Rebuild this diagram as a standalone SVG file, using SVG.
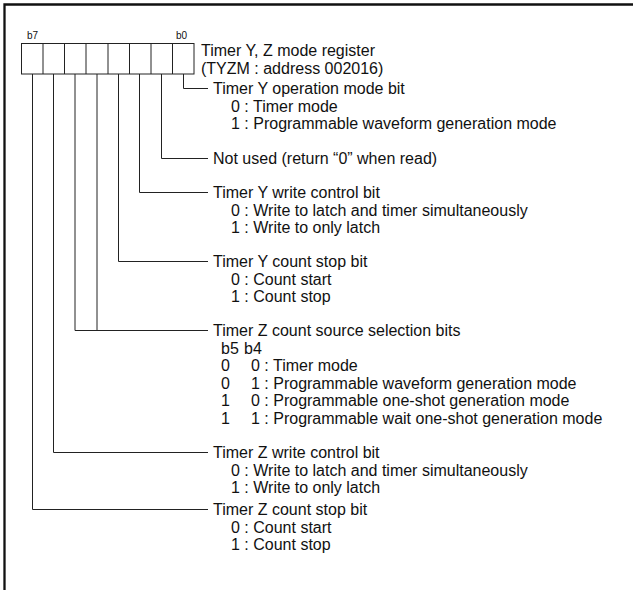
<svg xmlns="http://www.w3.org/2000/svg" width="633" height="590" viewBox="0 0 633 590">
<style>
text{font-family:"Liberation Sans",Arial,sans-serif;font-size:16px;fill:#111}
.small{font-size:10px}
.ln{stroke:#222;stroke-width:1;fill:none}
.frame{stroke:#111;stroke-width:2.3;fill:none}
</style>
<rect width="633" height="590" fill="#fff"/>
<path class="frame" d="M4.5,590 V4.5 H633"/>
<g id="register">
<text class="small" x="27" y="39">b7</text>
<text class="small" x="176" y="39">b0</text>
<rect class="ln" x="21.5" y="43.5" width="172.5" height="30.5"/>
<path class="ln" d="M43,43.5V74 M64.5,43.5V74 M86,43.5V74 M108,43.5V74 M129.5,43.5V74 M151,43.5V74 M172.5,43.5V74"/>
<text x="201" y="55.5">Timer Y, Z mode register</text>
<text x="201" y="73.5">(TYZM : address 002016)</text>
</g>
<g id="connectors">
<path class="ln" d="M183.5,74V88.5H208"/>
<path class="ln" d="M161.5,74V158.5H208"/>
<path class="ln" d="M139.5,74V192.5H208"/>
<path class="ln" d="M118.5,74V261.5H208"/>
<path class="ln" d="M97,74V330.5"/>
<path class="ln" d="M75,74V330.5H208"/>
<path class="ln" d="M53.5,74V452.5H208"/>
<path class="ln" d="M32.5,74V509.5H208"/>
</g>
<g id="bit0">
<text x="213" y="94">Timer Y operation mode bit</text>
<text x="231" y="111.5">0 : Timer mode</text>
<text x="231" y="129">1 : Programmable waveform generation mode</text>
</g>
<g id="bit1">
<text x="213" y="164">Not used (return “0” when read)</text>
</g>
<g id="bit2">
<text x="213" y="198">Timer Y write control bit</text>
<text x="231" y="215.5">0 : Write to latch and timer simultaneously</text>
<text x="231" y="233">1 : Write to only latch</text>
</g>
<g id="bit3">
<text x="213" y="267">Timer Y count stop bit</text>
<text x="231" y="284.5">0 : Count start</text>
<text x="231" y="302">1 : Count stop</text>
</g>
<g id="bit54">
<text x="213" y="336">Timer Z count source selection bits</text>
<text x="221" y="353.5">b5</text><text x="244" y="353.5">b4</text>
<text x="221" y="371">0</text><text x="251" y="371">0 : Timer mode</text>
<text x="221" y="388.5">0</text><text x="251" y="388.5">1 : Programmable waveform generation mode</text>
<text x="221" y="406">1</text><text x="251" y="406">0 : Programmable one-shot generation mode</text>
<text x="221" y="423.5">1</text><text x="251" y="423.5">1 : Programmable wait one-shot generation mode</text>
</g>
<g id="bit6">
<text x="213" y="458">Timer Z write control bit</text>
<text x="231" y="475.5">0 : Write to latch and timer simultaneously</text>
<text x="231" y="493">1 : Write to only latch</text>
</g>
<g id="bit7">
<text x="213" y="515">Timer Z count stop bit</text>
<text x="231" y="532.5">0 : Count start</text>
<text x="231" y="550">1 : Count stop</text>
</g>
</svg>
